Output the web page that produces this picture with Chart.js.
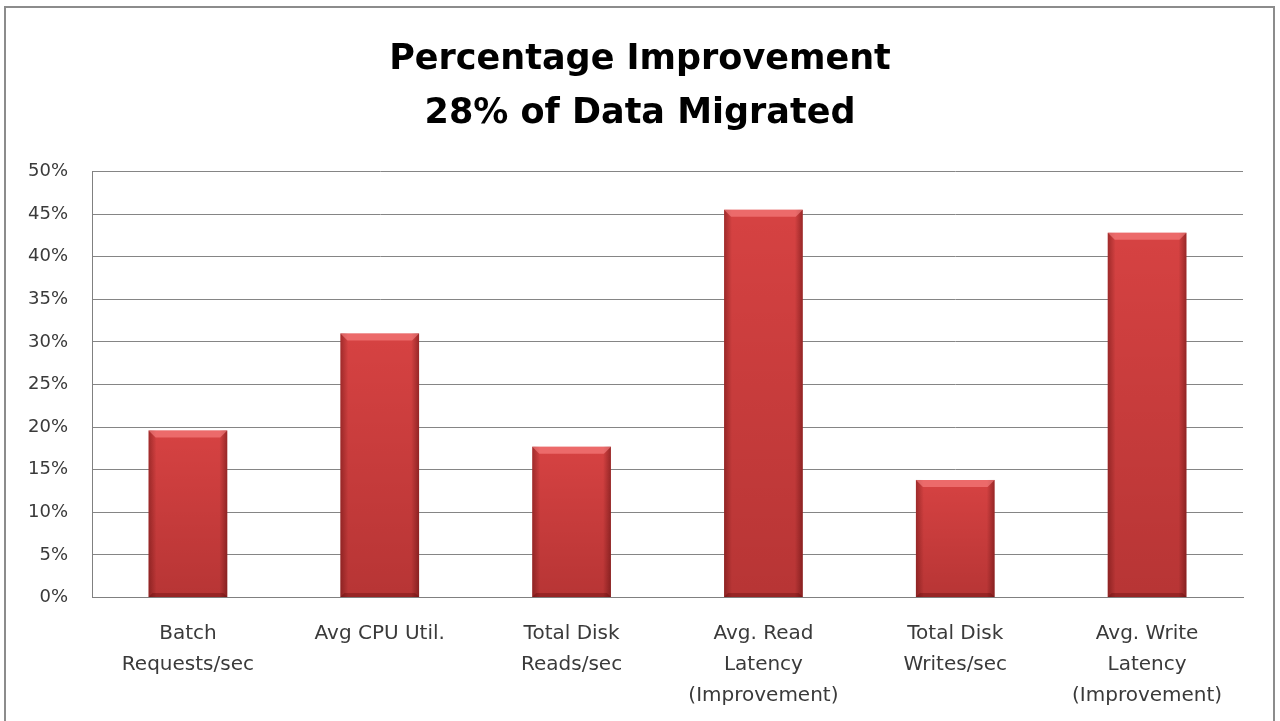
<!DOCTYPE html>
<html>
<head>
<meta charset="utf-8">
<script src="https://cdn.jsdelivr.net/npm/chart.js@4"></script>
<style>
  html, body { margin: 0; padding: 0; background: #fff; }
  #wrap { width: 1280px; height: 721px; position: relative; }
</style>
</head>
<body>
<div id="wrap"><canvas id="chart" width="1280" height="721"></canvas></div>
<script>
const categories = [
    ["Batch", "Requests/sec"],
    ["Avg CPU Util."],
    ["Total Disk", "Reads/sec"],
    ["Avg. Read", "Latency", "(Improvement)"],
    ["Total Disk", "Writes/sec"],
    ["Avg. Write", "Latency", "(Improvement)"]
];
const improvement = [19.6, 31.0, 17.7, 45.5, 13.8, 42.8];
const yTicks = [0, 5, 10, 15, 20, 25, 30, 35, 40, 45, 50];
const titleLines = ["Percentage Improvement", "28% of Data Migrated"];

// frame round the whole chart, like the Excel chart border
const framePlugin = {
    id: "frame",
    beforeDraw(chart) {
        const ctx = chart.ctx;
        ctx.save();
        ctx.fillStyle = "#fff";
        ctx.fillRect(0, 0, chart.width, chart.height);
        ctx.strokeStyle = "#8c8c8c";
        ctx.lineWidth = 2;
        ctx.strokeRect(5, 7, 1269, 800);
        ctx.restore();
    }
};

// bevel / shading on top of each bar
const bevelPlugin = {
    id: "bevel",
    afterDatasetsDraw(chart) {
        const ctx = chart.ctx;
        const meta = chart.getDatasetMeta(0);
        meta.data.forEach(bar => {
            const p = bar.getProps(["x", "y", "base", "width"], true);
            const l = p.x - p.width / 2, r = p.x + p.width / 2;
            const t = p.y, b = p.base, h = b - t;
            ctx.save();
            let g = ctx.createLinearGradient(l, 0, r, 0);
            g.addColorStop(0, "rgba(60,0,0,0.35)");
            g.addColorStop(0.1, "rgba(60,0,0,0)");
            g.addColorStop(0.9, "rgba(60,0,0,0)");
            g.addColorStop(1, "rgba(60,0,0,0.4)");
            ctx.fillStyle = g;
            ctx.fillRect(l, t, p.width, h);
            g = ctx.createLinearGradient(0, t, 0, b);
            g.addColorStop(0, "rgba(60,0,0,0)");
            g.addColorStop(1, "rgba(60,0,0,0.2)");
            ctx.fillStyle = g;
            ctx.fillRect(l, t, p.width, h);
            // light top bevel
            const bv = 7;
            ctx.beginPath();
            ctx.moveTo(l, t);
            ctx.lineTo(r, t);
            ctx.lineTo(r - bv, t + bv);
            ctx.lineTo(l + bv, t + bv);
            ctx.closePath();
            ctx.fillStyle = "rgba(255,140,140,0.55)";
            ctx.fill();
            // dark bottom bevel
            ctx.beginPath();
            ctx.moveTo(l, b);
            ctx.lineTo(r, b);
            ctx.lineTo(r - 4, b - 4);
            ctx.lineTo(l + 4, b - 4);
            ctx.closePath();
            ctx.fillStyle = "rgba(80,0,0,0.3)";
            ctx.fill();
            ctx.restore();
        });
    }
};

const ctx = document.getElementById("chart").getContext("2d");
const myChart = new Chart(ctx, {
    type: "bar",
    data: {
        labels: categories,
        datasets: [{
            label: "Improvement",
            data: improvement,
            backgroundColor: "#d64242",
            borderWidth: 0,
            barPercentage: 0.41,
            categoryPercentage: 1
        }]
    },
    options: {
        responsive: false,
        animation: false,
        layout: { padding: { left: 18.5, right: 18.5, top: 0, bottom: 0 } },
        plugins: {
            legend: { display: false },
            tooltip: { enabled: false },
            title: {
                display: true,
                text: titleLines,
                color: "#000",
                font: { family: "DejaVu Sans", size: 35, weight: "bold", lineHeight: 1.543 },
                padding: { top: 33, bottom: 30.5 }
            }
        },
        scales: {
            x: {
                afterFit(scale) { scale.height = 123.5; },
                grid: { display: false, drawTicks: false },
                border: { display: true, color: "#808080", width: 1 },
                ticks: {
                    color: "#3a3a3a",
                    font: { family: "DejaVu Sans", size: 20, lineHeight: 1.55 },
                    padding: 21,
                    maxRotation: 0,
                    autoSkip: false
                }
            },
            y: {
                min: 0,
                max: 50,
                afterFit(scale) { scale.width = 73.5; },
                afterBuildTicks(scale) { scale.ticks = yTicks.map(v => ({ value: v })); },
                grid: { color: "#858585", lineWidth: 1, drawTicks: false },
                border: { display: true, color: "#808080", width: 1 },
                ticks: {
                    color: "#3a3a3a",
                    font: { family: "DejaVu Sans", size: 18 },
                    padding: 24,
                    callback: v => v + "%"
                }
            },
            // empty strip on the right so the title stays centred on the page
            spacer: {
                type: "linear",
                position: "right",
                afterFit(scale) { scale.width = 18.5; },
                grid: { display: false, drawTicks: false },
                border: { display: false },
                ticks: { display: false }
            }
        }
    },
    plugins: [framePlugin, bevelPlugin]
});
</script>
</body>
</html>
